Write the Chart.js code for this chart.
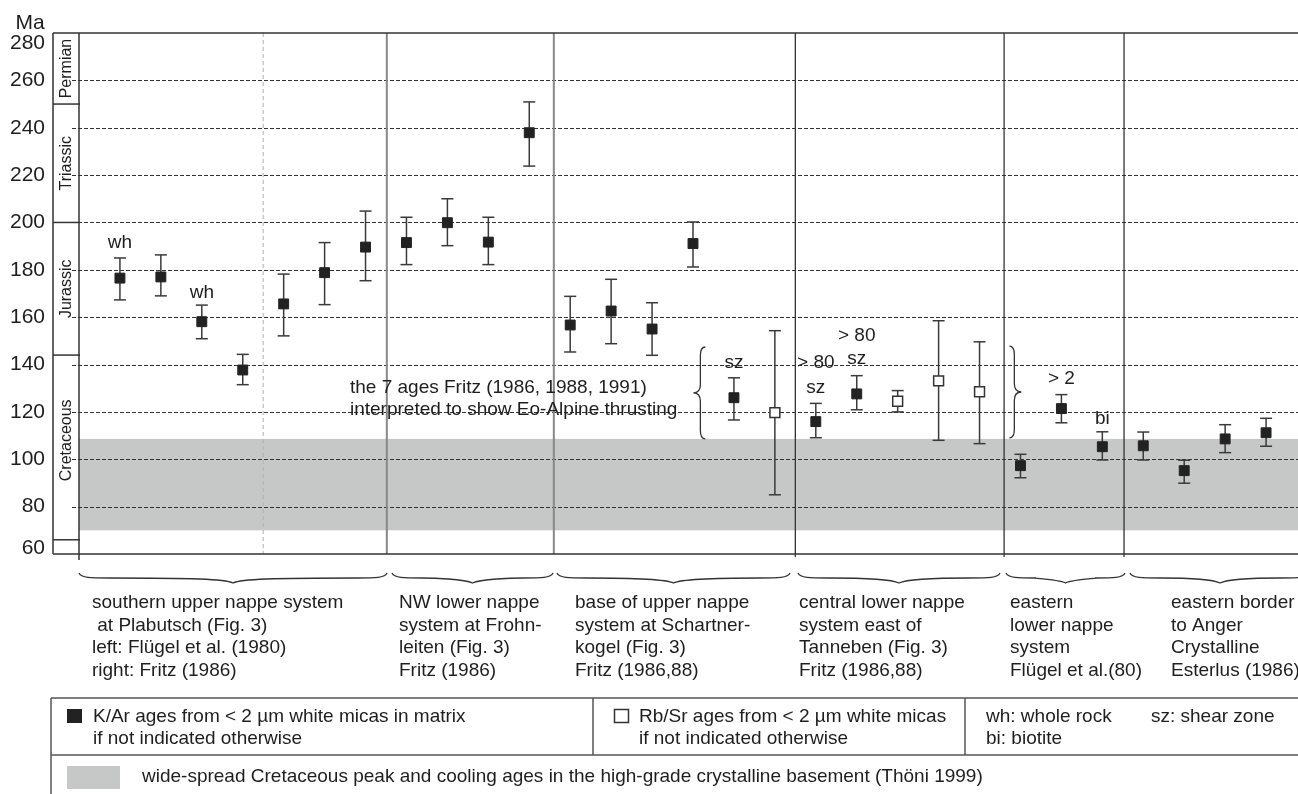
<!DOCTYPE html>
<html><head><meta charset="utf-8">
<script src="https://cdn.jsdelivr.net/npm/chart.js@4/dist/chart.umd.min.js"></script>
<style>html,body{margin:0;padding:0;background:#fff;overflow:hidden}#wrap{position:relative;width:1298px;height:794px}</style>
</head><body><div id="wrap"><canvas id="c" width="1298" height="794"></canvas></div>
<script>
// ---------- data ----------
const yTickLabels = [60, 80, 100, 120, 140, 160, 180, 200, 220, 240, 260, 280];
const gridValues = [80, 100, 120, 140, 160, 180, 200, 220, 240, 260];

// K/Ar ages (filled squares): sample position, age, lower and upper error limit (Ma)
const kArPos = [0, 1, 2, 3, 4, 5, 6, 7, 8, 9, 10, 11, 12, 13, 14, 15, 17, 18, 22, 23, 24, 25, 26, 27, 28];
const kArAge = [176.5, 177, 158.1, 137.7, 165.6, 178.8, 189.6, 191.5, 199.9, 191.7, 237.9, 156.7, 162.6, 155, 191.1, 126, 115.9, 127.6, 97.3, 121.4, 105.3, 105.7, 95.2, 108.6, 111.2];
const kArMin = [167.3, 169, 150.9, 131.5, 152.1, 165.3, 175.4, 182.2, 190.2, 182.2, 223.8, 145.3, 148.8, 143.9, 181.2, 116.6, 109.1, 120.9, 92.2, 115.4, 99.7, 99.7, 89.9, 102.8, 105.5];
const kArMax = [185, 186.3, 165.1, 144.3, 178.2, 191.5, 204.8, 202.2, 210, 202.2, 250.9, 168.8, 176, 166.1, 200.2, 134.4, 123.6, 135.3, 102.1, 127.3, 111.6, 111.5, 99.6, 114.6, 117.3];

// Rb/Sr ages (open squares)
const rbSrPos = [16, 19, 20, 21];
const rbSrAge = [119.7, 124.5, 133.1, 128.5];
const rbSrMin = [85, 120, 108, 106.6];
const rbSrMax = [154.3, 129, 158.5, 149.6];

// Cretaceous band (Ma)
const bandRange = [70, 108.6];

// geological periods
const periodNames = ['Permian', 'Triassic', 'Jurassic', 'Cretaceous'];
const periodBoundaries = [280, 250, 200, 144, 66, 60];
const periodLabelAt = [265, 225, 172, 108];

// point annotations
const noteTexts = ['wh', 'wh', 'sz', '> 80', 'sz', '> 80', 'sz', '> 2', 'bi'];
const noteX = [0, 2, 15, 17, 17, 18, 18, 23, 24];
const noteY = [191.3, 170.2, 140.7, 140.7, 130.1, 152.1, 142.3, 133.9, 117.0];

// group descriptions
const groupLines = [
  ['southern upper nappe system', ' at Plabutsch (Fig. 3)', 'left: Flügel et al. (1980)', 'right: Fritz (1986)'],
  ['NW lower nappe', 'system at Frohn-', 'leiten (Fig. 3)', 'Fritz (1986)'],
  ['base of upper nappe', 'system at Schartner-', 'kogel (Fig. 3)', 'Fritz (1986,88)'],
  ['central lower nappe', 'system east of', 'Tanneben (Fig. 3)', 'Fritz (1986,88)'],
  ['eastern', 'lower nappe', 'system', 'Flügel et al.(80)'],
  ['eastern border', 'to Anger', 'Crystalline', 'Esterlus (1986)']
];

// ---------- layout (not data) ----------
const separators = [
  {v: 3.5, style: 'dash'}, {v: 6.52, style: 'gray'}, {v: 10.6, style: 'gray'},
  {v: 16.5, style: 'dark'}, {v: 21.6, style: 'dark'}, {v: 24.53, style: 'dark'}
];
const groupBraceSpan = [[79, 387], [392, 553], [557, 790], [798, 1000], [1006, 1125], [1130, 1310]];
const groupTextX = [92, 399, 575, 799, 1010, 1171];
const FONT = '"Liberation Sans", Arial, Helvetica, sans-serif';
const INK = '#1e1e1e';

function line(ctx, x1, y1, x2, y2) { ctx.beginPath(); ctx.moveTo(x1, y1); ctx.lineTo(x2, y2); ctx.stroke(); }

function hBrace(ctx, x1, x2, y, d) {
  const xm = (x1 + x2) / 2;
  ctx.beginPath();
  ctx.moveTo(x1, y - d);
  ctx.bezierCurveTo(x1 + 2, y, x1 + 12, y, x1 + 30, y);
  ctx.bezierCurveTo(xm - 40, y, xm - 8, y + 1, xm, y + d);
  ctx.bezierCurveTo(xm + 8, y + 1, xm + 40, y, x2 - 30, y);
  ctx.bezierCurveTo(x2 - 12, y, x2 - 2, y, x2, y - d);
  ctx.stroke();
}
function vBrace(ctx, x, y1, y2, s, w) {
  const ym = (y1 + y2) / 2;
  ctx.beginPath();
  ctx.moveTo(x - s * w * 0.7, y1);
  ctx.quadraticCurveTo(x, y1, x, y1 + w * 1.2);
  ctx.lineTo(x, ym - w * 1.2);
  ctx.quadraticCurveTo(x, ym, x + s * w, ym);
  ctx.quadraticCurveTo(x, ym, x, ym + w * 1.2);
  ctx.lineTo(x, y2 - w * 1.2);
  ctx.quadraticCurveTo(x, y2, x - s * w * 0.7, y2);
  ctx.stroke();
}

const decor = {
  id: 'decor',
  beforeDatasetsDraw(chart) {
    const {ctx, chartArea: a, scales: {x, y}} = chart;
    ctx.save();
    // band
    const b1 = y.getPixelForValue(bandRange[1]), b2 = y.getPixelForValue(bandRange[0]);
    ctx.fillStyle = '#c6c7c7';
    ctx.fillRect(a.left, b1, a.right - a.left, b2 - b1);
    // grid
    ctx.strokeStyle = '#333'; ctx.lineWidth = 1; ctx.setLineDash([4, 2]);
    gridValues.forEach(v => { const py = Math.round(y.getPixelForValue(v)) + 0.5; line(ctx, a.left - 7, py, a.right, py); });
    // separators
    separators.forEach(s => {
      const px = x.getPixelForValue(s.v);
      if (s.style === 'dash') { ctx.setLineDash([4, 3]); ctx.strokeStyle = '#b0b0b0'; ctx.lineWidth = 1; }
      else if (s.style === 'gray') { ctx.setLineDash([]); ctx.strokeStyle = '#888'; ctx.lineWidth = 2; }
      else { ctx.setLineDash([]); ctx.strokeStyle = '#333'; ctx.lineWidth = 1.3; }
      line(ctx, px, a.top, px, a.bottom + (s.style === 'dark' ? 3 : 0));
    });
    ctx.setLineDash([]);
    // error bars
    ctx.strokeStyle = '#3a3a3a'; ctx.lineWidth = 1.5;
    const bars = (pos, lo, hi) => pos.forEach((p, i) => {
      const px = x.getPixelForValue(p), yl = y.getPixelForValue(lo[i]), yh = y.getPixelForValue(hi[i]);
      line(ctx, px, yl, px, yh); line(ctx, px - 6, yl, px + 6, yl); line(ctx, px - 6, yh, px + 6, yh);
    });
    bars(kArPos, kArMin, kArMax);
    bars(rbSrPos, rbSrMin, rbSrMax);
    ctx.restore();
  },
  afterDraw(chart) {
    const {ctx, chartArea: a, scales: {x, y}} = chart;
    ctx.save();
    const colL = 53;
    // frame
    ctx.strokeStyle = '#333'; ctx.lineWidth = 1.5;
    line(ctx, colL, a.top, a.right, a.top);
    line(ctx, colL, a.bottom, a.right, a.bottom);
    line(ctx, colL, a.top, colL, a.bottom);
    line(ctx, a.left, a.top, a.left, a.bottom + 6);
    periodBoundaries.slice(1, -1).forEach(v => { const py = y.getPixelForValue(v); line(ctx, colL, py, a.left + 1, py); });
    // period names
    ctx.fillStyle = INK; ctx.font = '16px ' + FONT; ctx.textAlign = 'center'; ctx.textBaseline = 'middle';
    periodNames.forEach((n, i) => {
      ctx.save(); ctx.translate((colL + a.left) / 2 + 1, y.getPixelForValue(periodLabelAt[i])); ctx.rotate(-Math.PI / 2);
      ctx.fillText(n, 0, 0); ctx.restore();
    });
    // y tick labels
    ctx.font = '21px ' + FONT; ctx.textAlign = 'right';
    yTickLabels.forEach(v => {
      const py = Math.min(Math.max(y.getPixelForValue(v), a.top + 10), a.bottom - 6);
      ctx.fillText(String(v), 45, py);
    });
    ctx.textAlign = 'center';
    ctx.fillText('Ma', 30, 23);
    // point notes
    ctx.font = '19px ' + FONT;
    noteTexts.forEach((t, i) => ctx.fillText(t, x.getPixelForValue(noteX[i]), y.getPixelForValue(noteY[i])));
    // interpretation text
    ctx.textAlign = 'left';
    ctx.fillText('the 7 ages Fritz (1986, 1988, 1991)', x.getPixelForValue(5.62), y.getPixelForValue(130.1));
    ctx.fillText('interpreted to show Eo-Alpine thrusting', x.getPixelForValue(5.62), y.getPixelForValue(120.8));
    // in-plot braces
    ctx.strokeStyle = '#333'; ctx.lineWidth = 1.3;
    vBrace(ctx, x.getPixelForValue(14.18), y.getPixelForValue(147.4), y.getPixelForValue(108.6), -1, 7);
    vBrace(ctx, x.getPixelForValue(21.85), y.getPixelForValue(147.8), y.getPixelForValue(109), 1, 7);
    // group braces and texts
    groupBraceSpan.forEach(s => hBrace(ctx, s[0], s[1], 578, 5));
    ctx.font = '19px ' + FONT; ctx.textAlign = 'left';
    groupLines.forEach((lines, g) => lines.forEach((t, k) => ctx.fillText(t, groupTextX[g], 603 + k * 22.6)));
    // legend box
    ctx.strokeStyle = '#555'; ctx.lineWidth = 1.5;
    line(ctx, 51, 698, 1298, 698);
    line(ctx, 51, 755, 1298, 755);
    line(ctx, 51, 698, 51, 794);
    line(ctx, 593, 698, 593, 755);
    line(ctx, 965, 698, 965, 755);
    ctx.fillStyle = '#222'; ctx.fillRect(67, 709, 15, 14);
    ctx.fillStyle = '#fff'; ctx.fillRect(614, 709, 15, 14);
    ctx.strokeStyle = '#333'; ctx.strokeRect(614.5, 709.5, 14, 13);
    ctx.fillStyle = '#c6c7c7'; ctx.fillRect(67, 766, 53, 23);
    ctx.fillStyle = INK;
    ctx.fillText('K/Ar ages from < 2 µm white micas in matrix', 93, 717);
    ctx.fillText('if not indicated otherwise', 93, 739);
    ctx.fillText('Rb/Sr ages from < 2 µm white micas', 639, 717);
    ctx.fillText('if not indicated otherwise', 639, 739);
    ctx.fillText('wh: whole rock', 986, 717);
    ctx.fillText('bi: biotite', 986, 739);
    ctx.fillText('sz: shear zone', 1151, 717);
    ctx.fillText('wide-spread Cretaceous peak and cooling ages in the high-grade crystalline basement (Thöni 1999)', 142, 777);
    ctx.restore();
  }
};

new Chart(document.getElementById('c'), {
  type: 'scatter',
  data: {
    datasets: [
      {
        label: 'K/Ar ages', data: kArPos.map((p, i) => ({x: p, y: kArAge[i]})),
        pointStyle: 'rect', pointRadius: 7, backgroundColor: '#222', borderColor: '#222', borderWidth: 1
      },
      {
        label: 'Rb/Sr ages', data: rbSrPos.map((p, i) => ({x: p, y: rbSrAge[i]})),
        pointStyle: 'rect', pointRadius: 7, backgroundColor: '#fff', borderColor: '#333', borderWidth: 1.5
      }
    ]
  },
  options: {
    responsive: false, animation: false, devicePixelRatio: 1,
    layout: {autoPadding: false, padding: {left: 79, right: 0, top: 33, bottom: 240}},
    plugins: {legend: {display: false}, tooltip: {enabled: false}},
    scales: {
      x: {type: 'linear', min: -1, max: 28.78, display: false},
      y: {type: 'linear', min: 60, max: 280, display: false}
    }
  },
  plugins: [decor]
});
</script></body></html>
